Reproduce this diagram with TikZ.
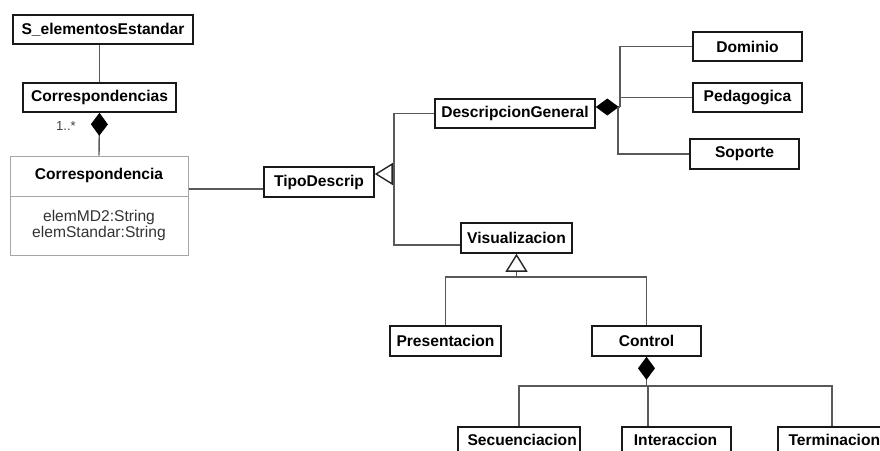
\documentclass[tikz,border=0pt]{standalone}
\usepackage{fontspec}
\setmainfont{Liberation Sans}
\usetikzlibrary{arrows.meta}
\tikzset{
  cls/.style={draw=black!90, line width=1.6pt, fill=white, inner sep=0pt,
    font=\fontsize{15.6}{16}\selectfont\bfseries, text=black},
  conn/.style={draw=black!65, line width=1.4pt},
  gen/.style={-{Triangle[open, length=18pt, width=22pt, line width=1.4pt, color=black!85, fill=white]}},
  comp/.style={{Diamond[length=23pt, width=17pt, color=black, fill=black]}-},
  compend/.style={-{Diamond[length=23pt, width=17pt, color=black, fill=black]}},
  attr/.style={font=\fontsize{15.6}{16}\selectfont, text=black!80, align=center}
}
\begin{document}
\begin{tikzpicture}[x=1pt, y=-1pt]
\clip (0,0) rectangle (880,450);
\fill[white] (0,0) rectangle (880,450);

% classes
\node[cls, minimum width=180pt, minimum height=29pt] (selem) at (103,29.5) {S\_elementosEstandar};
\node[cls, minimum width=153pt, minimum height=29pt] (corrs) at (99.5,97.5) {Correspondencias};
\node[draw=black!35, line width=1pt, fill=white, minimum width=178pt, minimum height=99pt, inner sep=0pt] (corr) at (99,205.5) {};
\draw[draw=black!35, line width=1pt] (corr.west |- 0,196) -- (corr.east |- 0,196);
\node[font=\fontsize{15.6}{16}\selectfont\bfseries] (corrname) at (99,175) {Correspondencia};
\node[attr] (corrattr) at (99,225) {elemMD2:String\\elemStandar:String};

\node[cls, minimum width=110pt, minimum height=30pt] (tipo) at (319,182) {TipoDescrip};
\node[cls, minimum width=160pt, minimum height=29pt] (dg) at (515,113.5) {DescripcionGeneral};
\node[cls, minimum width=109pt, minimum height=29pt] (dom) at (747.5,46.5) {Dominio};
\node[cls, minimum width=109pt, minimum height=29pt] (ped) at (747.5,97.5) {Pedagogica};
\node[cls, minimum width=109pt, minimum height=30pt] (sop) at (744.5,154) {Soporte};
\node[cls, minimum width=111pt, minimum height=30pt] (vis) at (516.5,238) {Visualizacion};
\node[cls, minimum width=111pt, minimum height=30pt] (pres) at (445.5,341) {Presentacion};
\node[cls, minimum width=109pt, minimum height=30pt] (ctrl) at (646.5,341) {Control};
\node[cls, minimum width=122pt, minimum height=30pt, anchor=north west] (sec) at (457,426) {};
\node[font=\fontsize{15.6}{16}\selectfont\bfseries, anchor=west] (sectxt) at (464,440) {Secuenciacion};
\node[cls, minimum width=109pt, minimum height=30pt, anchor=north west] (int) at (621,426) {};
\node[font=\fontsize{15.6}{16}\selectfont\bfseries] (inttxt) at (675.5,440) {Interaccion};
\node[cls, minimum width=113pt, minimum height=30pt, anchor=north west] (term) at (777,426) {};
\node[font=\fontsize{15.6}{16}\selectfont\bfseries, anchor=west] (termtxt) at (785,440) {Terminacion};

% associations
\draw[conn] (corrs.north) -- (corrs.north |- selem.south);
\draw[conn, compend] (corr.north) -- (corrs.south);
\node[font=\fontsize{13}{13}\selectfont, text=black!75] (mult) at (66,126) {1..*};
\draw[conn] (corr.east |- 0,189) -- (tipo.west |- 0,189);

% generalization of TipoDescrip
\draw[conn] (dg.west) -- (394,113.5) -- (394,245) -- (vis.west |- 0,245);
\draw[conn, gen] (394,174) -- (tipo.east |- 0,174);

% composition of DescripcionGeneral
\draw[conn, comp] (dg.east |- 0,107) -- (620,107);
\draw[conn] (dom.west) -- (620,46.5) -- (620,107);
\draw[conn] (ped.west) -- (620,97.5);
\draw[conn] (618,107) -- (618,154) -- (sop.west);

% generalization of Visualizacion
\draw[conn] (pres.north) -- (pres.north |- 0,277) -- (ctrl.north |- 0,277) -- (ctrl.north);
\draw[conn, gen] (vis.south |- 0,277) -- (vis.south);

% composition of Control
\draw[conn, comp] (ctrl.south) -- (ctrl.south |- 0,386);
\draw[conn] (sec.north) -- (sec.north |- 0,386) -- (832,386) -- (term.north west -| 832,0);
\draw[conn] (648,386) -- (int.north west -| 648,0);
\end{tikzpicture}
\end{document}
